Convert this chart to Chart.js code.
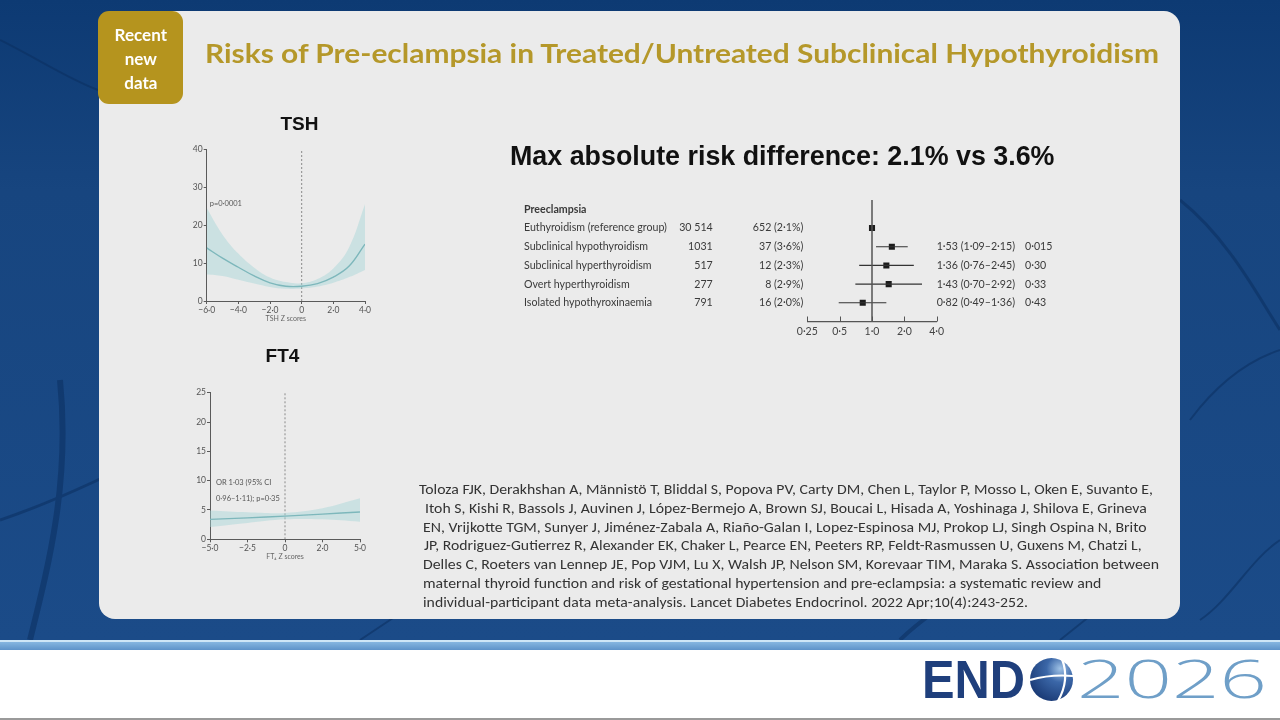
<!DOCTYPE html>
<html><head><meta charset="utf-8">
<script src="https://cdn.jsdelivr.net/npm/chart.js@4.4.1/dist/chart.umd.min.js"></script>
<style>
html,body{margin:0;padding:0;}
body{width:1280px;height:720px;position:relative;overflow:hidden;background:#fff;}
#bg{position:absolute;left:0;top:0;width:1280px;height:640px;background:linear-gradient(180deg,#0d3a73 0%,#17457f 30%,#1b4b88 100%);}
#stripe1{position:absolute;left:0;top:640px;width:1280px;height:2px;background:#cfe6f6;}
#stripe2{position:absolute;left:0;top:642px;width:1280px;height:8px;background:linear-gradient(180deg,#86b6e0,#5f93c9);}
#bottomline{position:absolute;left:0;top:718px;width:1280px;height:2px;background:#9a9a9a;}
#card{position:absolute;left:99px;top:11px;width:1081px;height:608px;background:#ebebeb;border-radius:16px;}
#badge{position:absolute;left:98px;top:11px;width:85px;height:93px;background:#b5941e;border-radius:11px;}
canvas{position:absolute;}
#tshWrap{position:absolute;left:170px;top:140px;width:210px;height:190px;}
#ft4Wrap{position:absolute;left:175px;top:380px;width:200px;height:190px;}
#forestWrap{position:absolute;left:515px;top:195px;width:550px;height:150px;}
svg{position:absolute;left:0;top:0;}
</style>
</head>
<body>
<div id="bg"></div>
<svg width="1280" height="640" style="opacity:0.55">
  <path d="M0 520 C 60 500, 120 470, 200 430" stroke="#0b2f60" stroke-width="3" fill="none"/>
  <path d="M30 640 C 50 560, 70 480, 60 380" stroke="#0b2f60" stroke-width="6" fill="none"/>
  <path d="M1180 200 C 1230 240, 1260 300, 1280 330" stroke="#0b2f60" stroke-width="3" fill="none"/>
  <path d="M1190 420 C 1220 380, 1250 360, 1280 350" stroke="#0b2f60" stroke-width="2" fill="none"/>
  <path d="M360 640 L 420 600" stroke="#0b2f60" stroke-width="2" fill="none"/>
  <path d="M900 640 C 930 610, 960 600, 990 560" stroke="#0b2f60" stroke-width="4" fill="none"/>
  <path d="M1060 640 L 1110 600" stroke="#0b2f60" stroke-width="2" fill="none"/>
  <path d="M0 40 C 40 60, 70 80, 98 90" stroke="#0b2f60" stroke-width="2" fill="none"/>
  <path d="M1200 620 C 1230 600, 1250 560, 1280 540" stroke="#0b2f60" stroke-width="2" fill="none"/>
</svg>
<div id="stripe1"></div>
<div id="stripe2"></div>
<div id="bottomline"></div>
<div id="card"></div>
<div id="badge"></div>

<div id="tshWrap"><canvas id="tsh" width="210" height="190"></canvas></div>
<div id="ft4Wrap"><canvas id="ft4" width="200" height="190"></canvas></div>
<div id="forestWrap"><canvas id="forest" width="550" height="150"></canvas></div>

<svg width="1280" height="720">
  <g font-family="Lato, 'Open Sans', sans-serif" font-weight="700" font-size="17" fill="#ffffff" text-anchor="middle">
    <text x="140.8" y="40.7">Recent</text>
    <text x="140.8" y="65">new</text>
    <text x="140.8" y="89.3">data</text>
  </g>
  <text x="205" y="63.3" font-family="Lato, 'Open Sans', sans-serif" font-weight="700" font-size="27" fill="#b5982a" textLength="954" lengthAdjust="spacingAndGlyphs">Risks of Pre-eclampsia in Treated/Untreated Subclinical Hypothyroidism</text>
  <text x="510" y="164.5" font-family="'Liberation Sans', Arial, sans-serif" font-weight="700" font-size="27" fill="#111111" textLength="544.5" lengthAdjust="spacingAndGlyphs">Max absolute risk difference: 2.1% vs 3.6%</text>
  <text x="299.5" y="130" text-anchor="middle" font-family="'Liberation Sans', Arial, sans-serif" font-weight="700" font-size="19" fill="#111111">TSH</text>
  <text x="282.5" y="361.7" text-anchor="middle" font-family="'Liberation Sans', Arial, sans-serif" font-weight="700" font-size="19" fill="#111111">FT4</text>
  <g font-family="Carlito, Lato, 'Open Sans', sans-serif" font-size="14.5" fill="#333333">
    <text x="419" y="494" textLength="734" lengthAdjust="spacingAndGlyphs">Toloza FJK, Derakhshan A, Männistö T, Bliddal S, Popova PV, Carty DM, Chen L, Taylor P, Mosso L, Oken E, Suvanto E,</text>
    <text x="425" y="512.8" textLength="721.7" lengthAdjust="spacingAndGlyphs">Itoh S, Kishi R, Bassols J, Auvinen J, López-Bermejo A, Brown SJ, Boucai L, Hisada A, Yoshinaga J, Shilova E, Grineva</text>
    <text x="423" y="531.6" textLength="723.7" lengthAdjust="spacingAndGlyphs">EN, Vrijkotte TGM, Sunyer J, Jiménez-Zabala A, Riaño-Galan I, Lopez-Espinosa MJ, Prokop LJ, Singh Ospina N, Brito</text>
    <text x="424" y="550.4" textLength="717.7" lengthAdjust="spacingAndGlyphs">JP, Rodriguez-Gutierrez R, Alexander EK, Chaker L, Pearce EN, Peeters RP, Feldt-Rasmussen U, Guxens M, Chatzi L,</text>
    <text x="423" y="569.2" textLength="736" lengthAdjust="spacingAndGlyphs">Delles C, Roeters van Lennep JE, Pop VJM, Lu X, Walsh JP, Nelson SM, Korevaar TIM, Maraka S. Association between</text>
    <text x="423" y="588" textLength="678.3" lengthAdjust="spacingAndGlyphs">maternal thyroid function and risk of gestational hypertension and pre-eclampsia: a systematic review and</text>
    <text x="423" y="606.8" textLength="605" lengthAdjust="spacingAndGlyphs">individual-participant data meta-analysis. Lancet Diabetes Endocrinol. 2022 Apr;10(4):243-252.</text>
  </g>
  <!-- ENDO2026 logo -->
  <text x="922" y="698.3" font-family="'Liberation Sans', Arial, sans-serif" font-weight="900" font-size="53" fill="#1f3f7c" textLength="103" lengthAdjust="spacingAndGlyphs">END</text>
  <defs>
    <radialGradient id="gl" cx="0.7" cy="0.25" r="0.9">
      <stop offset="0" stop-color="#9fc2e6"/>
      <stop offset="0.35" stop-color="#3b67a8"/>
      <stop offset="1" stop-color="#15336d"/>
    </radialGradient>
  </defs>
  <circle cx="1051.5" cy="679.5" r="21.5" fill="url(#gl)"/>
  <path d="M1030 680 Q 1051 674 1073 676" stroke="#ffffff" stroke-width="2.2" fill="none"/>
  <path d="M1062 659 Q 1070 680 1058 701" stroke="#ffffff" stroke-width="2.2" fill="none"/>
  <text x="1077" y="698.3" font-family="'Open Sans', Lato, sans-serif" font-weight="300" font-size="53" fill="#6f9fc8" textLength="190" lengthAdjust="spacingAndGlyphs">2026</text>
</svg>

<script>
// ---------------- DATA ----------------
// TSH panel (risk of pre-eclampsia, % by TSH Z score)
const tshZ     = [-6, -5, -4, -3, -2, -1, 0, 1, 2, 3, 4];
const tshRisk  = [14.0, 11.3, 8.9, 6.6, 4.8, 3.9, 3.9, 4.6, 6.3, 9.2, 15.0];
const tshUpper = [24.5, 17.5, 12.5, 8.8, 6.2, 5.0, 4.7, 5.8, 8.6, 14.2, 25.5];
const tshLower = [7.0, 6.6, 5.6, 4.6, 3.7, 3.2, 3.3, 3.8, 4.8, 6.3, 8.2];
const tshXTicks = [-6, -4, -2, 0, 2, 4];
const tshXLabels = ['−6·0', '−4·0', '−2·0', '0', '2·0', '4·0'];
const tshYTicks = [0, 10, 20, 30, 40];
const tshNote = 'p=0·0001';

// FT4 panel
const ft4Z     = [-5, -2.5, 0, 2.5, 5];
const ft4Risk  = [3.4, 3.65, 3.95, 4.3, 4.65];
const ft4Upper = [4.9, 4.6, 4.5, 5.3, 7.0];
const ft4Lower = [2.1, 2.8, 3.4, 3.4, 3.0];
const ft4XTicks = [-5, -2.5, 0, 2.5, 5];
const ft4XLabels = ['−5·0', '−2·5', '0', '2·0', '5·0'];
const ft4YTicks = [0, 5, 10, 15, 20, 25];
const ft4Note = ['OR 1·03 (95% CI', '0·96–1·11); p=0·35'];

// Forest plot
const forestHeader = 'Preeclampsia';
const forestLabels = ['Euthyroidism (reference group)', 'Subclinical hypothyroidism', 'Subclinical hyperthyroidism', 'Overt hyperthyroidism', 'Isolated hypothyroxinaemia'];
const forestN      = ['30 514', '1031', '517', '277', '791'];
const forestEvents = ['652 (2·1%)', '37 (3·6%)', '12 (2·3%)', '8 (2·9%)', '16 (2·0%)'];
const forestOR     = [1.00, 1.53, 1.36, 1.43, 0.82];
const forestLo     = [null, 1.09, 0.76, 0.70, 0.49];
const forestHi     = [null, 2.15, 2.45, 2.92, 1.36];
const forestP      = ['', '0·015', '0·30', '0·33', '0·43'];
const forestTicks  = [0.25, 0.5, 1, 2, 4];
const forestTickLabels = ['0·25', '0·5', '1·0', '2·0', '4·0'];

// ---------------- HELPERS ----------------
const TEAL = '#5d9ea4';
const BAND = 'rgba(165,212,216,0.45)';
const AX = '#5a5a5a';
const pts = (xs, ys) => xs.map((x, i) => ({x: x, y: ys[i]}));
const fmt = v => v.toFixed(2).replace('.', '·');

function curveChart(id, cfg) {
  const noteP = {
    id: 'note_' + id,
    afterDatasetsDraw(chart) {
      const c = chart.ctx, a = chart.chartArea, y = chart.scales.y;
      c.save();
      c.fillStyle = '#555';
      c.font = cfg.noteFont + 'px Lato, sans-serif';
      c.textBaseline = 'middle';
      c.textAlign = 'left';
      cfg.notes.forEach((n, i) => c.fillText(n, a.left + cfg.noteDx, y.getPixelForValue(cfg.noteY[i])));
      c.restore();
    }
  };
  return new Chart(document.getElementById(id), {
    type: 'line',
    data: {
      datasets: [
        {data: pts(cfg.xs, cfg.upper), borderWidth: 0, borderColor: 'transparent', backgroundColor: BAND, fill: '+1', pointRadius: 0, tension: 0.4},
        {data: pts(cfg.xs, cfg.lower), borderWidth: 0, borderColor: 'transparent', fill: false, pointRadius: 0, tension: 0.4},
        {data: pts(cfg.xs, cfg.risk), borderWidth: 1.4, borderColor: TEAL, fill: false, pointRadius: 0, tension: 0.4},
        {data: [{x: 0, y: 0}, {x: 0, y: cfg.ymax}], borderWidth: 1, borderColor: '#8a8a8a', borderDash: [2, 2], fill: false, pointRadius: 0}
      ]
    },
    options: {
      animation: false, responsive: false, maintainAspectRatio: false,
      layout: {padding: cfg.padding},
      plugins: {legend: {display: false}, tooltip: {enabled: false}},
      scales: {
        x: {
          type: 'linear', min: cfg.xs[0], max: cfg.xs[cfg.xs.length - 1],
          afterBuildTicks: s => { s.ticks = cfg.xTicks.map(v => ({value: v})); },
          afterFit: s => { s.height = 22; },
          ticks: {autoSkip: false, maxRotation: 0, padding: 1, color: '#555', font: {family: 'Lato', size: 8.5},
                  callback: (v, i) => cfg.xLabels[i]},
          grid: {drawOnChartArea: false, drawTicks: true, tickLength: 3, color: AX},
          border: {display: true, color: AX, width: 1},
          title: {display: true, text: cfg.xTitle, color: '#666', font: {family: 'Lato', size: 7}, padding: 0}
        },
        y: {
          type: 'linear', min: 0, max: cfg.ymax,
          afterBuildTicks: s => { s.ticks = cfg.yTicks.map(v => ({value: v})); },
          afterFit: s => { s.width = 22; },
          ticks: {autoSkip: false, padding: 1, color: '#555', font: {family: 'Lato', size: 8.5}},
          grid: {drawOnChartArea: false, drawTicks: true, tickLength: 3, color: AX},
          border: {display: true, color: AX, width: 1}
        }
      }
    },
    plugins: [noteP]
  });
}

curveChart('tsh', {
  xs: tshZ, risk: tshRisk, upper: tshUpper, lower: tshLower, ymax: 40,
  xTicks: tshXTicks, xLabels: tshXLabels, yTicks: tshYTicks, xTitle: 'TSH Z scores',
  padding: {left: 14.7, top: 9.3, right: 15, bottom: 7},
  notes: [tshNote], noteY: [25.8], noteDx: 3, noteFont: 7.5
});

curveChart('ft4', {
  xs: ft4Z, risk: ft4Risk, upper: ft4Upper, lower: ft4Lower, ymax: 25,
  xTicks: ft4XTicks, xLabels: ft4XLabels, yTicks: ft4YTicks, xTitle: 'FT₄ Z scores',
  padding: {left: 13, top: 12.7, right: 15, bottom: 8.7},
  notes: ft4Note, noteY: [9.6, 7.0], noteDx: 6, noteFont: 7.5
});

// ---------------- FOREST PLOT ----------------
const forestDatasets = [];
// reference line at OR = 1
forestDatasets.push({type: 'line', data: [{x: 1, y: -0.5}, {x: 1, y: 6}], borderColor: '#555', borderWidth: 1.5, pointRadius: 0, showLine: true});
// confidence intervals
forestLo.forEach((lo, i) => {
  if (lo == null) return;
  forestDatasets.push({type: 'line', data: [{x: lo, y: i + 1}, {x: forestHi[i], y: i + 1}], borderColor: '#333', borderWidth: 1.1, pointRadius: 0, showLine: true});
});
// point estimates
forestDatasets.push({type: 'scatter', data: forestOR.map((v, i) => ({x: v, y: i + 1})), pointStyle: 'rect', pointRadius: 4.3, backgroundColor: '#1c1c1c', borderColor: '#1c1c1c', borderWidth: 0});

const forestText = {
  id: 'forestText',
  afterDraw(chart) {
    const c = chart.ctx, y = chart.scales.y, x = chart.scales.x;
    c.save();
    c.font = '10px Lato, sans-serif';
    const fs = 10 * 143 / c.measureText(forestLabels[0]).width;
    c.fillStyle = '#3a3a3a';
    c.textBaseline = 'middle';
    c.textAlign = 'left';
    c.font = 'bold ' + fs + 'px Lato, sans-serif';
    c.fillText(forestHeader, 9, y.getPixelForValue(0));
    c.font = fs + 'px Lato, sans-serif';
    forestLabels.forEach((lab, i) => {
      const py = y.getPixelForValue(i + 1);
      c.textAlign = 'left';
      c.fillText(lab, 9, py);
      c.textAlign = 'right';
      c.fillText(forestN[i], 197.7, py);
      c.fillText(forestEvents[i], 288.3, py);
      if (forestLo[i] != null) {
        c.textAlign = 'left';
        c.fillText(fmt(forestOR[i]) + ' (' + fmt(forestLo[i]) + '–' + fmt(forestHi[i]) + ')', x.right, py);
        c.fillText(forestP[i], 510, py);
      }
    });
    c.strokeStyle = '#555';
    c.lineWidth = 1;
    x.ticks.forEach(t => {
      const px = Math.round(x.getPixelForValue(t.value)) + 0.5;
      c.beginPath(); c.moveTo(px, x.top); c.lineTo(px, x.top - 5); c.stroke();
    });
    c.restore();
  }
};

new Chart(document.getElementById('forest'), {
  type: 'scatter',
  data: {datasets: forestDatasets},
  options: {
    animation: false, responsive: false, maintainAspectRatio: false,
    layout: {padding: {left: 292.3, right: 128.3, top: 5, bottom: 5.5}},
    plugins: {legend: {display: false}, tooltip: {enabled: false}},
    scales: {
      x: {
        type: 'logarithmic', min: 0.25, max: 4,
        afterBuildTicks: s => { s.ticks = forestTicks.map(v => ({value: v})); },
        afterFit: s => { s.height = 18; },
        ticks: {autoSkip: false, maxRotation: 0, padding: 4, color: '#444', font: {family: 'Lato', size: 10.5},
                callback: (v, i) => forestTickLabels[i]},
        grid: {drawOnChartArea: false, drawTicks: false, color: 'transparent'},
        border: {display: true, color: '#555', width: 1.2}
      },
      y: {
        type: 'linear', min: -0.5, max: 6, reverse: true, display: false
      }
    }
  },
  plugins: [forestText]
});
</script>
</body></html>
